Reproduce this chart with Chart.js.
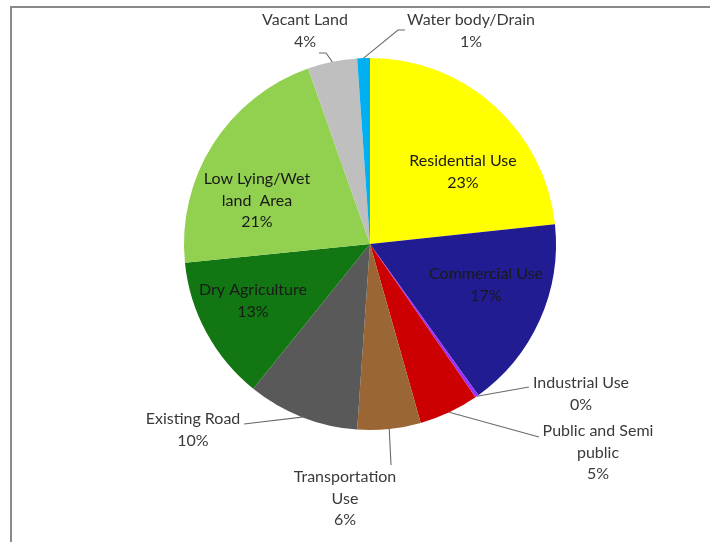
<!DOCTYPE html>
<html>
<head>
<meta charset="utf-8">
<script src="https://cdn.jsdelivr.net/npm/chart.js@4.4.1/dist/chart.umd.min.js"></script>
<style>
  html, body { margin: 0; padding: 0; background: #fff; }
  canvas { display: block; }
</style>
</head>
<body>
<canvas id="myChart" width="710" height="542"></canvas>
<script>
var ctx = document.getElementById("myChart").getContext("2d");

// land use categories, clockwise from 12 o'clock
const categories = [
  "Residential Use",
  "Commercial Use",
  "Industrial Use",
  "Public and Semi public",
  "Transportation Use",
  "Existing Road",
  "Dry Agriculture",
  "Low Lying/Wet land  Area",
  "Vacant Land",
  "Water body/Drain",
];
// share of area (%)
const shares = [23.3, 16.8, 0.3, 5.2, 5.5, 9.7, 12.6, 21.2, 4.3, 1.1];
// percentages as printed on the labels
const shareLabels = ["23%", "17%", "0%", "5%", "6%", "10%", "13%", "21%", "4%", "1%"];

const colors = [
  "#ffff00", "#221c93", "#9b30ff", "#cc0000", "#9a6634",
  "#595959", "#127612", "#92d050", "#bfbfbf", "#00b0f0",
];

// label placement: text lines, centre of text block, optional leader bend points
const labelLayout = [
  { lines: ["Residential Use"], x: 463, y: 161, inside: true },
  { lines: ["Commercial Use"], x: 486, y: 274, inside: true },
  { lines: ["Industrial Use"], x: 581, y: 383, leader: [[529, 387]] },
  { lines: ["Public and Semi", "public"], x: 598, y: 431, leader: [[539, 437]] },
  { lines: ["Transportation", "Use"], x: 345, y: 477, leader: [[391, 465]] },
  { lines: ["Existing Road"], x: 193, y: 419, leader: [[244, 424]] },
  { lines: ["Dry Agriculture"], x: 253, y: 290, inside: true },
  { lines: ["Low Lying/Wet", "land  Area"], x: 257, y: 179, inside: true },
  { lines: ["Vacant Land"], x: 305, y: 20, leader: [[326, 53], [319, 53]] },
  { lines: ["Water body/Drain"], x: 471, y: 20, leader: [[398, 30], [405, 30]] },
];

const LINE_H = 21.5;

const frame = {
  id: "frame",
  beforeDraw(chart) {
    const c = chart.ctx;
    c.save();
    c.strokeStyle = "#8a8a8a";
    c.lineWidth = 2;
    c.beginPath();
    c.moveTo(11, 542);
    c.lineTo(11, 7);
    c.lineTo(710, 7);
    c.stroke();
    c.restore();
  },
};

const pieLabels = {
  id: "pieLabels",
  afterDatasetsDraw(chart) {
    const c = chart.ctx;
    const arcs = chart.getDatasetMeta(0).data;
    c.save();
    c.font = "16px Lato";
    c.textAlign = "center";
    c.textBaseline = "middle";
    labelLayout.forEach((lab, i) => {
      const arc = arcs[i];
      if (lab.leader) {
        const p = arc.getProps(["x", "y", "startAngle", "endAngle", "outerRadius"], true);
        const mid = (p.startAngle + p.endAngle) / 2;
        c.strokeStyle = "#6a6a6a";
        c.lineWidth = 1.1;
        c.beginPath();
        c.moveTo(p.x + Math.cos(mid) * p.outerRadius, p.y + Math.sin(mid) * p.outerRadius);
        lab.leader.forEach(([lx, ly]) => c.lineTo(lx, ly));
        c.stroke();
      }
      c.fillStyle = lab.inside ? "#1a1a1a" : "#3a3a3a";
      const rows = lab.lines.concat([shareLabels[i]]);
      rows.forEach((t, k) => c.fillText(t, lab.x, lab.y + k * LINE_H));
    });
    c.restore();
  },
};

new Chart(ctx, {
  type: "pie",
  data: {
    labels: categories,
    datasets: [
      {
        data: shares,
        backgroundColor: colors,
        borderWidth: 0,
      },
    ],
  },
  options: {
    responsive: false,
    animation: false,
    layout: { padding: { left: 184, right: 154, top: 58, bottom: 112 } },
    plugins: {
      legend: { display: false },
      tooltip: { enabled: false },
    },
  },
  plugins: [frame, pieLabels],
});
</script>
</body>
</html>
